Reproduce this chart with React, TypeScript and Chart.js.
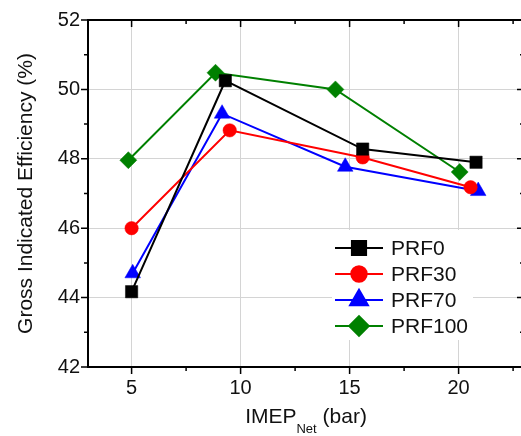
import React, { useEffect, useRef } from 'react';
import { Chart, registerables } from 'chart.js';
import { drawPoint } from 'chart.js/helpers';

Chart.register(...registerables);

// ---- data ----
const seriesNames = ['PRF0', 'PRF30', 'PRF70', 'PRF100'];
const prf0X = [5.0, 9.3, 15.6, 20.8];
const prf0Y = [44.17, 50.25, 48.28, 47.9];
const prf30X = [5.0, 9.5, 15.6, 20.55];
const prf30Y = [46.0, 48.82, 48.04, 47.18];
const prf70X = [5.05, 9.15, 14.8, 20.9];
const prf70Y = [44.7, 49.3, 47.77, 47.07];
const prf100X = [4.85, 8.85, 14.35, 20.05];
const prf100Y = [47.96, 50.48, 50.0, 47.62];

const xTicks = [5, 10, 15, 20];
const xMinorTicks = [7.5, 12.5, 17.5, 22.5];
const yTicks = [42, 44, 46, 48, 50, 52];
const yMinorTicks = [43, 45, 47, 49, 51];

const xTitleMain = 'IMEP';
const xTitleSub = 'Net';
const xTitleRest = ' (bar)';
const yTitle = 'Gross Indicated Efficiency (%)';

const colors = ['#000000', '#ff0000', '#0000ff', '#008000'];
const pointStyles = ['rect', 'circle', 'triangle', 'rectRot'];
const pointRadii = [8.7, 6.7, 9, 8.5];

const FONT = 'Arial, "Liberation Sans", sans-serif';

const framePlugin = {
  id: 'frameTicks',
  afterDraw(chart: any) {
    const { ctx, chartArea } = chart;
    const { left, right, top, bottom } = chartArea;
    const xs = chart.scales.x;
    const ys = chart.scales.y;
    ctx.save();
    ctx.strokeStyle = '#000';
    ctx.lineWidth = 2;
    ctx.strokeRect(left, top, right - left, bottom - top);
    ctx.lineWidth = 1.5;
    const major = 7;
    const minor = 4;
    ctx.beginPath();
    xTicks.forEach((v) => {
      const px = xs.getPixelForValue(v);
      ctx.moveTo(px, bottom); ctx.lineTo(px, bottom + major);
      ctx.moveTo(px, top); ctx.lineTo(px, top + major);
    });
    xMinorTicks.forEach((v) => {
      const px = xs.getPixelForValue(v);
      ctx.moveTo(px, bottom); ctx.lineTo(px, bottom + minor);
      ctx.moveTo(px, top); ctx.lineTo(px, top + minor);
    });
    yTicks.forEach((v) => {
      const py = ys.getPixelForValue(v);
      ctx.moveTo(left, py); ctx.lineTo(left - major, py);
      ctx.moveTo(right, py); ctx.lineTo(right - major, py);
    });
    yMinorTicks.forEach((v) => {
      const py = ys.getPixelForValue(v);
      ctx.moveTo(left, py); ctx.lineTo(left - minor, py);
      ctx.moveTo(right, py); ctx.lineTo(right - minor, py);
    });
    ctx.stroke();

    // axis titles
    ctx.fillStyle = '#111';
    ctx.font = `21px ${FONT}`;
    ctx.textBaseline = 'alphabetic';
    ctx.save();
    ctx.translate(32, (top + bottom) / 2);
    ctx.rotate(-Math.PI / 2);
    ctx.textAlign = 'center';
    ctx.fillText(yTitle, 0, 0);
    ctx.restore();

    const mainFont = `21px ${FONT}`;
    const subFont = `13px ${FONT}`;
    ctx.font = mainFont;
    const w1 = ctx.measureText(xTitleMain).width;
    const w3 = ctx.measureText(xTitleRest).width;
    ctx.font = subFont;
    const w2 = ctx.measureText(xTitleSub).width;
    const total = w1 + w2 + w3;
    const cx = (left + Math.min(right, 524)) / 2;
    let x0 = cx - total / 2;
    const base = 423;
    ctx.textAlign = 'left';
    ctx.font = mainFont;
    ctx.fillText(xTitleMain, x0, base);
    x0 += w1;
    ctx.font = subFont;
    ctx.fillText(xTitleSub, x0, base + 10);
    x0 += w2;
    ctx.font = mainFont;
    ctx.fillText(xTitleRest, x0, base);
    ctx.restore();
  },
};

const legendPlugin = {
  id: 'innerLegend',
  afterDatasetsDraw(chart: any) {
    const { ctx } = chart;
    ctx.save();
    ctx.fillStyle = '#ffffff';
    ctx.fillRect(332, 230, 141, 110);
    const rows = [248, 274, 300, 326];
    chart.data.datasets.forEach((ds: any, i: number) => {
      const y = rows[i];
      ctx.strokeStyle = ds.borderColor;
      ctx.lineWidth = 2;
      ctx.beginPath();
      ctx.moveTo(335, y);
      ctx.lineTo(383, y);
      ctx.stroke();
      ctx.fillStyle = ds.backgroundColor;
      ctx.strokeStyle = ds.borderColor;
      drawPoint(ctx, {
        pointStyle: ds.pointStyle,
        radius: ds.pointRadius * 1.15,
        rotation: 0,
        borderWidth: 0.5,
      } as any, 359, y);
      ctx.fillStyle = '#111';
      ctx.font = `21px ${FONT}`;
      ctx.textAlign = 'left';
      ctx.textBaseline = 'middle';
      ctx.fillText(ds.label, 391, y + 1);
    });
    ctx.restore();
  },
};

export default function App() {
  const canvasRef = useRef<HTMLCanvasElement | null>(null);

  useEffect(() => {
    document.body.style.margin = '0';
    document.body.style.overflow = 'hidden';
    const canvas = canvasRef.current;
    if (!canvas) return;
    const xsArr = [prf0X, prf30X, prf70X, prf100X];
    const ysArr = [prf0Y, prf30Y, prf70Y, prf100Y];
    const datasets = seriesNames.map((name, i) => ({
      label: name,
      data: xsArr[i].map((x, j) => ({ x, y: ysArr[i][j] })),
      borderColor: colors[i],
      backgroundColor: colors[i],
      pointBackgroundColor: colors[i],
      pointBorderColor: colors[i],
      pointStyle: pointStyles[i],
      pointRadius: pointRadii[i],
      pointBorderWidth: 0.5,
      borderWidth: 2,
      tension: 0,
      fill: false,
    }));
    const chart = new Chart(canvas, {
      type: 'line',
      data: { datasets },
      options: {
        animation: false,
        responsive: false,
        maintainAspectRatio: false,
        layout: { padding: { top: 16, right: 16, left: 0, bottom: 0 } },
        plugins: {
          legend: { display: false },
          tooltip: { enabled: false },
        },
        scales: {
          x: {
            type: 'linear',
            min: 3,
            max: 23,
            afterBuildTicks: (scale: any) => {
              scale.ticks = xTicks.map((v) => ({ value: v }));
            },
            afterFit: (scale: any) => {
              scale.height = 69;
            },
            ticks: {
              color: '#111',
              font: { family: FONT, size: 20 },
              padding: 9,
              maxRotation: 0,
              autoSkip: false,
            },
            grid: { color: '#d4d4d4', lineWidth: 1, drawTicks: false },
            border: { display: false },
          },
          y: {
            type: 'linear',
            min: 42,
            max: 52,
            afterBuildTicks: (scale: any) => {
              scale.ticks = yTicks.map((v) => ({ value: v }));
            },
            afterFit: (scale: any) => {
              scale.width = 88;
            },
            ticks: {
              color: '#111',
              font: { family: FONT, size: 20 },
              padding: 8,
              autoSkip: false,
            },
            grid: { color: '#d4d4d4', lineWidth: 1, drawTicks: false },
            border: { display: false },
          },
        },
      },
      plugins: [framePlugin, legendPlugin],
    } as any);
    return () => chart.destroy();
  }, []);

  return (
    <div style={{ position: 'relative', width: 521, height: 436, overflow: 'hidden', background: '#fff' }}>
      <canvas ref={canvasRef} width={540} height={436} style={{ display: 'block', width: 540, height: 436 }} />
    </div>
  );
}
